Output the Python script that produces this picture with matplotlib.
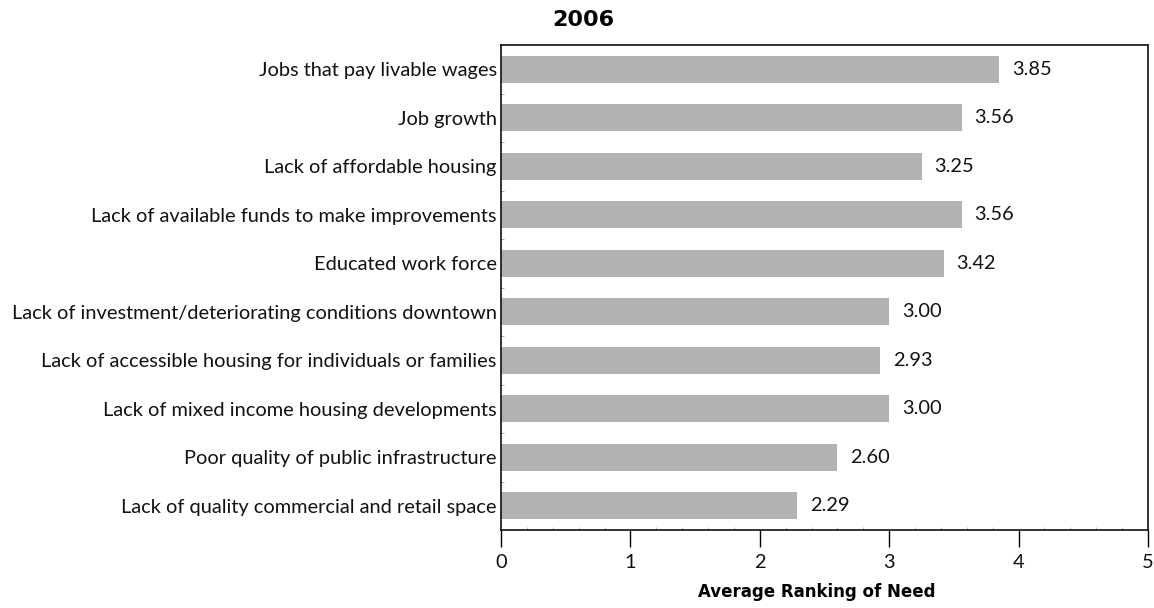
import matplotlib
matplotlib.use("Agg")
import matplotlib.pyplot as plt
from matplotlib.ticker import MultipleLocator, FixedLocator

categories = [
    "Jobs that pay livable wages",
    "Job growth",
    "Lack of affordable housing",
    "Lack of available funds to make improvements",
    "Educated work force",
    "Lack of investment/deteriorating conditions downtown",
    "Lack of accessible housing for individuals or families",
    "Lack of mixed income housing developments",
    "Poor quality of public infrastructure",
    "Lack of quality commercial and retail space",
]
values = [3.85, 3.56, 3.25, 3.56, 3.42, 3.00, 2.93, 3.00, 2.60, 2.29]
value_labels = ["3.85", "3.56", "3.25", "3.56", "3.42", "3.00", "2.93", "3.00", "2.60", "2.29"]
x_ticks = [0, 1, 2, 3, 4, 5]

W, H = 1154, 608
fig = plt.figure(figsize=(W / 100, H / 100), dpi=100)
ax = fig.add_axes([501 / W, 1 - 530 / H, (1148 - 501) / W, (530 - 45) / H])

label_font = "Lato"
fs = 14.4
n = len(categories)
ypos = list(range(n))
ax.barh(ypos, values, height=0.56, color="#b2b2b2", edgecolor="none", zorder=2)

for y, v, lab in zip(ypos, values, value_labels):
    ax.annotate(lab, (v, y), xytext=(9, 0), textcoords="offset points",
                va="center", ha="left", fontsize=fs, family=label_font, color="#111111")

ax.set_xlim(0, 5)
ax.set_ylim(n - 0.5, -0.5)
ax.set_yticks(ypos)
ax.set_yticklabels(categories, fontsize=fs, family=label_font, color="#111111")
ax.tick_params(axis="y", which="major", length=0, pad=3)
ax.yaxis.set_minor_locator(FixedLocator([i + 0.5 for i in range(-1, n)]))
ax.tick_params(axis="y", which="minor", length=2, direction="in", width=0.6, color="#999999")

ax.set_xticks(x_ticks)
ax.set_xticklabels([str(t) for t in x_ticks], fontsize=fs, family=label_font, color="#111111")
ax.xaxis.set_minor_locator(MultipleLocator(0.2))
ax.tick_params(axis="x", which="major", length=12, width=1, direction="out", pad=5)
ax.tick_params(axis="x", which="minor", length=2, width=0.6, direction="in", color="#aaaaaa")

for s in ax.spines.values():
    s.set_linewidth(1.2)
    s.set_color("#111111")

fig.text(583 / W, 1 - 20 / H, "2006", ha="center", va="center",
         fontsize=16, fontweight="bold", family="DejaVu Sans")
fig.text(817 / W, 1 - 592 / H, "Average Ranking of Need", ha="center", va="center",
         fontsize=12, fontweight="bold", family="DejaVu Sans")

fig.savefig("out.png", dpi=100, facecolor="white")
